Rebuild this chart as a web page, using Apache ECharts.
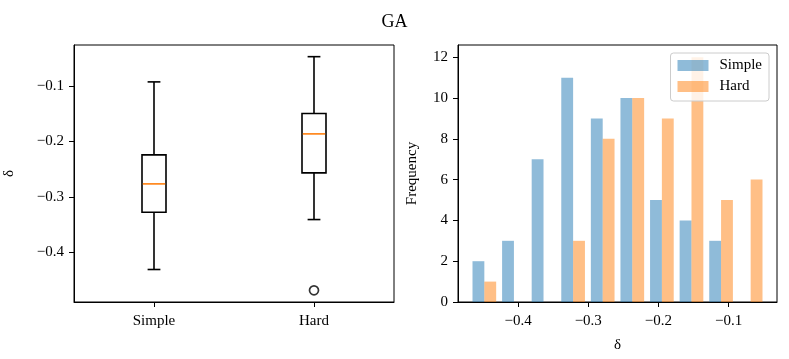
<!DOCTYPE html>
<html>
<head>
<meta charset="utf-8">
<script src="https://cdn.jsdelivr.net/npm/echarts@6/dist/echarts.min.js"></script>
<style>
html,body{margin:0;padding:0;background:#fff;}
#chart{width:789px;height:359px;}
</style>
</head>
<body>
<div id="chart"></div>
<script>
// ---- data ----
const boxCategories = ['Simple', 'Hard'];
// [lower whisker, Q1, median, Q3, upper whisker]
const simpleBox = [-0.4305, -0.3274, -0.2764, -0.2242, -0.0928];
const hardBox = [-0.3406, -0.2566, -0.1864, -0.1498, -0.0474];
const hardOutliers = [-0.4680];
const boxYTicks = [-0.4, -0.3, -0.2, -0.1];

const binEdges = [-0.46925, -0.42706, -0.38487, -0.34268, -0.30049, -0.25830,
                  -0.21611, -0.17392, -0.13173, -0.08954, -0.04735];
const simpleCounts = [2, 3, 7, 11, 9, 10, 5, 4, 3, 0];
const hardCounts = [1, 0, 0, 3, 8, 10, 9, 12, 5, 6];
const histXTicks = [-0.4, -0.3, -0.2, -0.1];
const histYTicks = [0, 2, 4, 6, 8, 10, 12];

// ---- chart ----
const FONT = "'Liberation Serif', 'Times New Roman', serif";
const minusFmt = v => (v < 0 ? '\u2212' : '') + Math.abs(v).toFixed(1);

const boxData = [
  [0].concat(simpleBox),
  [1].concat(hardBox)
];
const outlierData = hardOutliers.map(v => [1, v]);

function histData(counts) {
  return counts.map((c, i) => [binEdges[i], binEdges[i + 1], c]);
}

function histRender(k) {
  return function (params, api) {
    const l = api.value(0), r = api.value(1), c = api.value(2);
    if (!c) return null;
    const w = r - l;
    const x0 = l + w * (0.1 + 0.4 * k);
    const x1 = x0 + 0.4 * w;
    const p0 = api.coord([x0, c]);
    const p1 = api.coord([x1, 0]);
    return {
      type: 'rect',
      shape: { x: p0[0], y: p0[1], width: p1[0] - p0[0], height: p1[1] - p0[1] },
      style: api.style()
    };
  };
}

function boxRender(params, api) {
  const xi = api.value(0);
  const band = api.size([1, 0])[0];
  const bw = band * 0.15, cw = band * 0.08;
  const pLow = api.coord([xi, api.value(1)]);
  const pQ1 = api.coord([xi, api.value(2)]);
  const pMed = api.coord([xi, api.value(3)]);
  const pQ3 = api.coord([xi, api.value(4)]);
  const pHigh = api.coord([xi, api.value(5)]);
  const cx = pMed[0];
  const ls = { stroke: '#000', lineWidth: 1.6, fill: null };
  return {
    type: 'group',
    children: [
      { type: 'line', shape: { x1: cx, y1: pQ1[1], x2: cx, y2: pLow[1] }, style: ls },
      { type: 'line', shape: { x1: cx, y1: pQ3[1], x2: cx, y2: pHigh[1] }, style: ls },
      { type: 'line', shape: { x1: cx - cw / 2, y1: pLow[1], x2: cx + cw / 2, y2: pLow[1] }, style: ls },
      { type: 'line', shape: { x1: cx - cw / 2, y1: pHigh[1], x2: cx + cw / 2, y2: pHigh[1] }, style: ls },
      { type: 'rect', shape: { x: cx - bw / 2, y: pQ3[1], width: bw, height: pQ1[1] - pQ3[1] }, style: ls },
      { type: 'line', shape: { x1: cx - bw / 2 + 0.8, y1: pMed[1], x2: cx + bw / 2 - 0.8, y2: pMed[1] },
        style: { stroke: '#ff7f0e', lineWidth: 1.6 } }
    ]
  };
}

const axisCommon = {
  axisLine: { show: true, onZero: false, lineStyle: { color: '#000', width: 1 } },
  axisTick: { show: true, length: 5, lineStyle: { color: '#000', width: 1 } },
  splitLine: { show: false },
  axisLabel: { color: '#000', fontFamily: FONT, fontSize: 15 }
};

const chart = echarts.init(document.getElementById('chart'), null, { renderer: 'canvas' });
chart.setOption({
  animation: false,
  backgroundColor: '#fff',
  textStyle: { fontFamily: FONT },
  title: {
    text: 'GA', left: 'center', top: 8,
    textStyle: { fontFamily: FONT, fontSize: 18, fontWeight: 'normal', color: '#000' }
  },
  legend: {
    orient: 'vertical',
    right: 20, top: 53,
    padding: [5, 7, 7, 7],
    itemWidth: 31, itemHeight: 11, itemGap: 6,
    icon: 'rect',
    backgroundColor: 'rgba(255,255,255,0.8)',
    borderColor: '#cccccc', borderWidth: 1, borderRadius: 3,
    textStyle: { fontFamily: FONT, fontSize: 15, color: '#000', lineHeight: 15, padding: [0, 0, 0, 6] },
    data: ['Simple', 'Hard'],
    selectedMode: false
  },
  grid: [
    { left: 74, top: 45, width: 320, height: 257, show: true, borderColor: '#000', borderWidth: 1,
      containLabel: false, outerBoundsMode: 'none' },
    { left: 458, top: 45, width: 319, height: 257, show: true, borderColor: '#000', borderWidth: 1,
      containLabel: false, outerBoundsMode: 'none' }
  ],
  xAxis: [
    Object.assign({}, axisCommon, {
      type: 'category', gridIndex: 0, data: boxCategories, boundaryGap: true,
      axisTick: { show: true, alignWithLabel: true, length: 5, lineStyle: { color: '#000' } },
      axisLabel: { color: '#000', fontFamily: FONT, fontSize: 15, margin: 12 }
    }),
    Object.assign({}, axisCommon, {
      type: 'value', gridIndex: 1, min: -0.4857, max: -0.0309,
      name: '\u03b4', nameLocation: 'middle', nameGap: 36,
      nameTextStyle: { fontFamily: FONT, fontSize: 15, color: '#000' },
      axisTick: { show: true, length: 5, lineStyle: { color: '#000' }, customValues: histXTicks },
      axisLabel: { color: '#000', fontFamily: FONT, fontSize: 15, margin: 12,
                   customValues: histXTicks, formatter: minusFmt }
    })
  ],
  yAxis: [
    Object.assign({}, axisCommon, {
      type: 'value', gridIndex: 0, min: -0.4890, max: -0.0264,
      name: '\u03b4', nameLocation: 'middle', nameGap: 57,
      nameTextStyle: { fontFamily: FONT, fontSize: 15, color: '#000' },
      axisTick: { show: true, length: 5, lineStyle: { color: '#000' }, customValues: boxYTicks },
      axisLabel: { color: '#000', fontFamily: FONT, fontSize: 15, margin: 10,
                   customValues: boxYTicks, formatter: minusFmt }
    }),
    Object.assign({}, axisCommon, {
      type: 'value', gridIndex: 1, min: 0, max: 12.6,
      name: 'Frequency', nameLocation: 'middle', nameGap: 38,
      nameTextStyle: { fontFamily: FONT, fontSize: 15, color: '#000' },
      axisTick: { show: true, length: 5, lineStyle: { color: '#000' }, customValues: histYTicks },
      axisLabel: { color: '#000', fontFamily: FONT, fontSize: 15, margin: 10,
                   customValues: histYTicks, formatter: v => String(Math.round(v)) }
    })
  ],
  series: [
    {
      type: 'custom', name: 'box', xAxisIndex: 0, yAxisIndex: 0,
      data: boxData, encode: { x: 0, y: [1, 2, 3, 4, 5] },
      renderItem: boxRender, silent: true
    },
    {
      type: 'scatter', name: 'outliers', xAxisIndex: 0, yAxisIndex: 0,
      data: outlierData, symbol: 'circle', symbolSize: 9,
      itemStyle: { color: 'rgba(0,0,0,0)', borderColor: '#000', borderWidth: 1.7 },
      silent: true
    },
    {
      type: 'custom', name: 'Simple', xAxisIndex: 1, yAxisIndex: 1,
      data: histData(simpleCounts), encode: { x: [0, 1], y: 2 },
      renderItem: histRender(0),
      itemStyle: { color: 'rgba(31,119,180,0.5)' }, silent: true
    },
    {
      type: 'custom', name: 'Hard', xAxisIndex: 1, yAxisIndex: 1,
      data: histData(hardCounts), encode: { x: [0, 1], y: 2 },
      renderItem: histRender(1),
      itemStyle: { color: 'rgba(255,127,14,0.5)' }, silent: true
    }
  ]
});
</script>
</body>
</html>
